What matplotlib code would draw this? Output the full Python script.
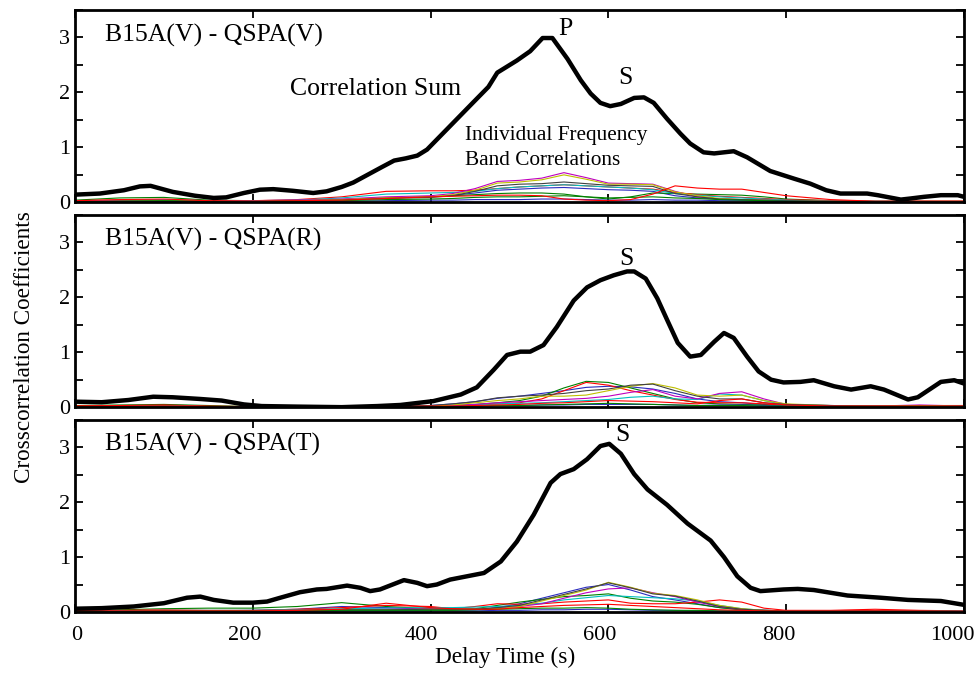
import matplotlib
matplotlib.use("Agg")
import matplotlib.pyplot as plt
from matplotlib.ticker import MultipleLocator
from matplotlib.transforms import ScaledTranslation
import numpy as np

plt.rcParams['font.family'] = ['Liberation Serif', 'DejaVu Serif']

# ---------------- data ----------------
panel_titles = ["B15A(V) - QSPA(V)", "B15A(V) - QSPA(R)", "B15A(V) - QSPA(T)"]

# correlation sum (thick black)
sum1_t = [0, 28, 55, 73, 85, 110, 135, 156, 170, 190, 208, 223, 245, 268, 283, 300, 313, 329, 345, 359,
          372, 385, 396, 419, 448, 465, 475, 497, 512, 526, 537, 554, 569, 580, 591, 602, 614, 629, 640,
          651, 666, 681, 692, 707, 719, 741, 756, 782, 809, 827, 845, 861, 891, 903, 929, 940, 955, 974, 993, 1000]
sum1_v = [0.14, 0.16, 0.22, 0.29, 0.30, 0.19, 0.12, 0.08, 0.09, 0.17, 0.23, 0.24, 0.21, 0.17, 0.20, 0.28,
          0.36, 0.50, 0.64, 0.76, 0.80, 0.85, 0.96, 1.34, 1.82, 2.10, 2.36, 2.58, 2.75, 2.99, 2.99, 2.61,
          2.22, 1.98, 1.81, 1.75, 1.79, 1.90, 1.91, 1.81, 1.52, 1.25, 1.07, 0.91, 0.89, 0.93, 0.82, 0.57,
          0.43, 0.34, 0.22, 0.16, 0.16, 0.13, 0.05, 0.07, 0.10, 0.13, 0.13, 0.10]

sum2_t = [0, 30, 60, 88, 110, 140, 165, 190, 210, 250, 300, 340, 366, 403, 434, 452, 471, 486, 501, 512,
          527, 542, 561, 576, 591, 606, 621, 629, 642, 655, 666, 678, 692, 704, 719, 730, 741, 756, 769,
          783, 797, 816, 831, 854, 873, 895, 910, 937, 948, 974, 989, 1000]
sum2_v = [0.10, 0.09, 0.13, 0.19, 0.18, 0.15, 0.12, 0.05, 0.02, 0.01, 0.00, 0.02, 0.04, 0.11, 0.23, 0.36,
          0.68, 0.95, 1.01, 1.01, 1.13, 1.46, 1.94, 2.18, 2.31, 2.40, 2.47, 2.47, 2.34, 1.98, 1.59, 1.17,
          0.92, 0.95, 1.19, 1.35, 1.26, 0.92, 0.65, 0.50, 0.45, 0.46, 0.49, 0.38, 0.32, 0.38, 0.32, 0.14,
          0.18, 0.46, 0.49, 0.43]

sum3_t = [0, 30, 66, 100, 126, 141, 156, 178, 200, 216, 231, 253, 272, 283, 306, 321, 332, 343, 370, 385,
          396, 407, 422, 441, 460, 479, 497, 516, 535, 546, 561, 576, 591, 601, 614, 629, 644, 666, 689,
          715, 730, 745, 760, 771, 797, 813, 831, 869, 906, 937, 974, 989, 1000]
sum3_v = [0.06, 0.07, 0.10, 0.16, 0.26, 0.28, 0.22, 0.17, 0.17, 0.19, 0.26, 0.36, 0.41, 0.42, 0.48, 0.44,
          0.38, 0.41, 0.58, 0.53, 0.47, 0.50, 0.59, 0.65, 0.71, 0.92, 1.28, 1.77, 2.35, 2.51, 2.60, 2.78,
          3.02, 3.06, 2.88, 2.51, 2.23, 1.95, 1.61, 1.30, 1.00, 0.65, 0.44, 0.38, 0.41, 0.42, 0.40, 0.30,
          0.26, 0.22, 0.20, 0.16, 0.13]

# individual frequency band correlations (thin coloured), shared time grid
band_t = [0, 50, 100, 150, 200, 250, 300, 350, 400, 425, 450, 475, 500, 525, 550, 575, 600, 625, 650,
          675, 700, 725, 750, 775, 800, 850, 900, 950, 1000]

band_colors = ['#2b2bbf', '#008000', '#ff0000', '#00bfbf', '#bf00bf', '#bfbf00', '#404040',
               '#2b2bbf', '#008000', '#ff0000']

bands1 = [
    [.01, .02, .03, .02, .02, .03, .05, .08, .10, .13, .17, .22, .24, .26, .27, .25, .23, .22, .20, .12, .08, .06, .05, .04, .03, .02, .01, .01, .01],
    [.04, .08, .09, .04, .03, .03, .05, .08, .10, .12, .14, .16, .17, .17, .15, .10, .06, .10, .17, .16, .15, .14, .13, .10, .06, .03, .02, .02, .02],
    [.03, .04, .04, .03, .03, .05, .10, .20, .21, .21, .22, .25, .28, .30, .32, .30, .28, .26, .24, .18, .14, .11, .09, .07, .05, .03, .02, .02, .02],
    [.02, .04, .05, .03, .03, .04, .08, .15, .17, .18, .20, .25, .28, .30, .32, .30, .28, .26, .23, .16, .13, .10, .08, .06, .04, .02, .02, .01, .01],
    [.02, .03, .04, .03, .03, .04, .06, .10, .12, .16, .25, .38, .40, .44, .54, .45, .35, .34, .33, .20, .10, .06, .05, .04, .03, .02, .01, .01, .01],
    [.01, .02, .03, .02, .02, .03, .05, .08, .10, .14, .22, .35, .37, .41, .50, .42, .33, .33, .32, .19, .12, .07, .05, .04, .03, .02, .01, .01, .01],
    [.01, .02, .02, .02, .02, .03, .04, .07, .09, .12, .20, .30, .33, .34, .37, .34, .31, .30, .29, .16, .10, .06, .05, .04, .03, .02, .01, .01, .01],
    [.00, .01, .01, .01, .01, .01, .02, .03, .04, .04, .05, .05, .05, .06, .06, .05, .04, .04, .05, .04, .04, .03, .03, .02, .02, .01, .01, .01, .01],
    [.01, .02, .03, .02, .01, .02, .03, .05, .06, .07, .09, .10, .10, .11, .12, .10, .08, .09, .10, .08, .07, .05, .04, .03, .02, .01, .01, .01, .01],
    [.03, .05, .06, .03, .02, .03, .04, .07, .10, .11, .12, .13, .13, .12, .06, .04, .03, .05, .15, .30, .26, .24, .24, .18, .12, .05, .02, .02, .02],
]

bands2 = [
    [.01, .02, .02, .01, .01, .00, .00, .01, .03, .06, .10, .16, .20, .25, .30, .36, .38, .37, .33, .25, .15, .10, .08, .05, .03, .02, .02, .02, .02],
    [.03, .04, .05, .03, .01, .01, .01, .01, .02, .03, .05, .08, .12, .20, .35, .47, .45, .35, .25, .15, .08, .06, .05, .04, .02, .02, .02, .02, .02],
    [.02, .03, .04, .02, .01, .01, .01, .01, .02, .03, .04, .06, .08, .15, .30, .45, .40, .30, .22, .14, .09, .08, .08, .06, .03, .02, .02, .03, .03],
    [.01, .01, .01, .01, .00, .00, .00, .01, .02, .03, .04, .06, .07, .08, .10, .12, .14, .18, .20, .15, .14, .24, .22, .12, .04, .03, .02, .02, .02],
    [.01, .01, .02, .01, .00, .00, .00, .01, .02, .03, .05, .08, .10, .12, .14, .16, .20, .27, .32, .20, .15, .25, .28, .15, .05, .03, .02, .04, .02],
    [.01, .01, .02, .01, .00, .00, .00, .01, .02, .04, .08, .12, .15, .20, .20, .22, .30, .38, .43, .35, .22, .20, .22, .12, .06, .03, .02, .03, .02],
    [.01, .01, .02, .01, .00, .00, .00, .01, .03, .06, .10, .17, .20, .22, .25, .30, .33, .40, .42, .30, .20, .15, .15, .08, .05, .03, .02, .02, .02],
    [.00, .00, .01, .00, .00, .00, .00, .00, .01, .01, .02, .03, .03, .04, .04, .05, .05, .05, .05, .04, .03, .04, .04, .03, .02, .01, .01, .01, .01],
    [.01, .01, .01, .01, .00, .00, .00, .00, .01, .01, .02, .03, .03, .04, .05, .06, .07, .06, .05, .04, .03, .03, .03, .02, .02, .01, .01, .01, .01],
    [.02, .02, .02, .01, .00, .00, .00, .01, .02, .02, .03, .04, .05, .07, .08, .10, .12, .11, .10, .08, .06, .12, .15, .08, .04, .02, .02, .02, .02],
]

bands3 = [
    [.01, .01, .02, .02, .03, .05, .10, .08, .05, .04, .04, .08, .15, .25, .35, .45, .50, .40, .28, .22, .15, .08, .04, .03, .02, .02, .02, .02, .01],
    [.02, .04, .06, .07, .07, .10, .17, .10, .06, .05, .06, .12, .18, .23, .28, .30, .33, .25, .20, .18, .14, .08, .04, .03, .02, .02, .02, .02, .01],
    [.02, .03, .04, .03, .03, .05, .08, .12, .10, .06, .10, .15, .14, .15, .18, .20, .22, .16, .15, .15, .18, .22, .18, .07, .03, .03, .05, .03, .02],
    [.01, .02, .03, .03, .03, .04, .06, .07, .08, .08, .09, .10, .12, .16, .22, .26, .30, .28, .26, .24, .20, .12, .06, .03, .02, .02, .02, .02, .01],
    [.01, .01, .02, .02, .02, .03, .04, .05, .06, .05, .05, .07, .10, .15, .25, .35, .42, .44, .35, .28, .18, .10, .05, .03, .02, .02, .02, .02, .01],
    [.01, .01, .02, .02, .02, .03, .04, .04, .05, .05, .05, .06, .10, .20, .30, .40, .54, .45, .34, .30, .22, .12, .06, .03, .02, .02, .02, .02, .01],
    [.01, .01, .02, .02, .02, .03, .04, .04, .05, .05, .05, .08, .12, .22, .32, .42, .53, .44, .33, .29, .20, .10, .05, .03, .02, .02, .02, .02, .01],
    [.00, .01, .01, .01, .01, .01, .02, .02, .02, .02, .02, .03, .03, .04, .04, .05, .05, .04, .03, .03, .02, .02, .02, .01, .01, .01, .01, .01, .01],
    [.01, .01, .02, .02, .02, .02, .03, .03, .03, .03, .04, .05, .06, .07, .07, .08, .07, .05, .04, .03, .03, .02, .02, .02, .01, .01, .01, .01, .01],
    [.02, .02, .02, .02, .02, .03, .05, .16, .08, .06, .05, .05, .08, .10, .12, .13, .14, .12, .10, .08, .06, .04, .03, .02, .02, .02, .02, .02, .01],
]

x_ticks = [0, 200, 400, 600, 800, 1000]
x_ticklabels = ["0", "200", "400", "600", "800", "1000"]

sums = [(sum1_t, sum1_v), (sum2_t, sum2_v), (sum3_t, sum3_v)]
bands = [bands1, bands2, bands3]

# ---------------- figure ----------------
fig = plt.figure(figsize=(9.77, 6.73), dpi=100)
gs = fig.add_gridspec(3, 1, left=75/977, right=964/977, top=1-10/673, bottom=1-612/673, hspace=0.065)
axes = [fig.add_subplot(gs[i]) for i in range(3)]

for i, ax in enumerate(axes):
    for b, c in zip(bands[i], band_colors):
        ax.plot(band_t, b, color=c, lw=0.8, zorder=2)
    st, sv = sums[i]
    ax.plot(st, sv, color='black', lw=3.2, zorder=3, solid_joinstyle='round')
    ax.set_xlim(0, 1000)
    ax.set_ylim(0, 3.5)
    ax.yaxis.set_major_locator(MultipleLocator(1))
    ax.yaxis.set_minor_locator(MultipleLocator(0.5))
    ax.set_xticks(x_ticks)
    ax.set_xticklabels(x_ticklabels)
    ax.tick_params(axis='both', which='both', direction='in', top=True, right=True,
                   length=6, width=1.3, labelsize=16)
    for sp in ax.spines.values():
        sp.set_linewidth(2.0)
    if i < 2:
        ax.tick_params(axis='x', labelbottom=False)
    else:
        ax.tick_params(axis='x', pad=10)
    ax.text(0.034, 0.87, panel_titles[i], transform=ax.transAxes, fontsize=18.5,
            ha='left', va='center')

axes[0].text(552, 3.16, "P", fontsize=18.5, ha='center', va='center')
axes[0].text(619, 2.27, "S", fontsize=18.5, ha='center', va='center')
axes[0].text(242, 2.07, "Correlation Sum", fontsize=18.5, ha='left', va='center')
axes[0].text(439, 0.99, "Individual Frequency\nBand Correlations", fontsize=15.3, ha='left',
             va='center', linespacing=1.4)
axes[1].text(620, 2.70, "S", fontsize=18.5, ha='center', va='center')
axes[2].text(616, 3.22, "S", fontsize=18.5, ha='center', va='center')

# shift bottom tick labels slightly left, as in the reference
offsets_px = [2, -8, -9, -9, -7, -12]
for lab, dx in zip(axes[2].get_xticklabels(), offsets_px):
    lab.set_transform(lab.get_transform() + ScaledTranslation(dx / 100, 0, fig.dpi_scale_trans))

fig.text(25/977, 1-347/673, "Crosscorrelation Coefficients", rotation=90, fontsize=16.7,
         ha='center', va='center')
fig.text(505/977, 1-657/673, "Delay Time (s)", fontsize=16.8, ha='center', va='center')

fig.savefig("out.png", dpi=100)
